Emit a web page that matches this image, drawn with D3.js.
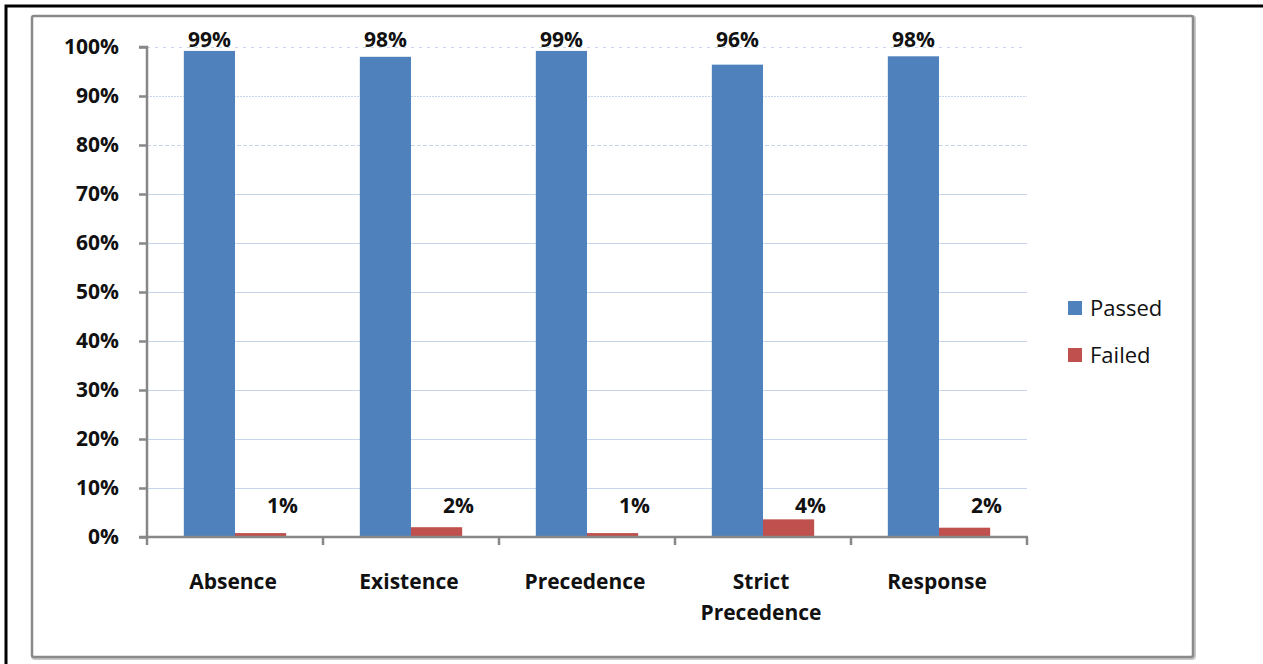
<!DOCTYPE html>
<html>
<head>
<meta charset="utf-8">
<script src="https://cdn.jsdelivr.net/npm/d3@7"></script>
<style>
  html, body { margin: 0; padding: 0; background: #fff; }
  svg { display: block; }
  text { font-family: "Open Sans", "DejaVu Sans", sans-serif; fill: #111; }
</style>
</head>
<body>
<svg id="chart" width="1263" height="664"></svg>
<script>
const categories = [["Absence"], ["Existence"], ["Precedence"], ["Strict", "Precedence"], ["Response"]];
const seriesNames = ["Passed", "Failed"];
const passed = [0.992, 0.98, 0.992, 0.964, 0.981];
const failed = [0.008, 0.02, 0.008, 0.036, 0.019];
const yTicks = [0, 0.1, 0.2, 0.3, 0.4, 0.5, 0.6, 0.7, 0.8, 0.9, 1.0];
const colors = ["#4f81bd", "#c0504d"];

const svg = d3.select("#chart");
const catKeys = categories.map(c => c.join(" "));
const FS = 21;

// outer black frame
svg.append("rect").attr("x", 6).attr("y", 6).attr("width", 1300).attr("height", 700)
  .attr("fill", "none").attr("stroke", "#000").attr("stroke-width", 3);
// chart area gray frame
svg.append("rect").attr("x", 33).attr("y", 17).attr("width", 1161).attr("height", 641)
  .attr("rx", 2).attr("fill", "none").attr("stroke", "#c8c8c8").attr("stroke-width", 4);
svg.append("rect").attr("x", 32).attr("y", 16).attr("width", 1161).attr("height", 641)
  .attr("rx", 2).attr("fill", "#fff").attr("stroke", "#8a8a8a").attr("stroke-width", 2.5);

const x0 = 147, x1 = 1027, yBot = 537, yTop = 47;
const x = d3.scaleBand().domain(catKeys).range([x0, x1]).padding(0);
const xs = d3.scaleBand().domain(seriesNames).range([0, x.bandwidth()]).paddingInner(0).paddingOuter(0.72);
const y = d3.scaleLinear().domain([0, 1]).range([yBot, yTop]);

// gridlines
const dashes = {"1": "3,5", "0.9": "2,1", "0.8": "4,2"};
svg.append("g").selectAll("line").data(yTicks.filter(t => t > 0)).join("line")
  .attr("x1", x0).attr("x2", x1)
  .attr("y1", d => Math.round(y(d)) + 0.5).attr("y2", d => Math.round(y(d)) + 0.5)
  .attr("stroke", "#c6d4ec").attr("stroke-width", 1)
  .attr("stroke-dasharray", d => dashes[String(+d.toFixed(1))] || null);

// bars
const rows = catKeys.map((k, i) => ({k, vals: [passed[i], failed[i]]}));
const groups = svg.append("g").selectAll("g").data(rows).join("g")
  .attr("transform", d => `translate(${x(d.k)},0)`);
groups.selectAll("rect").data(d => d.vals.map((v, j) => ({s: seriesNames[j], v, j}))).join("rect")
  .attr("x", d => xs(d.s)).attr("width", xs.bandwidth())
  .attr("y", d => y(d.v)).attr("height", d => yBot - y(d.v))
  .attr("fill", d => colors[d.j]);

// value labels
groups.selectAll("text").data(d => d.vals.map((v, j) => ({s: seriesNames[j], v, j}))).join("text")
  .attr("x", d => xs(d.s) + xs.bandwidth() / 2 + (d.j === 1 ? 22 : 0))
  .attr("y", d => d.j === 1 ? y(0.05) : y(1) - 0)
  .attr("text-anchor", "middle").attr("font-size", FS).attr("font-weight", "bold")
  .text(d => d3.format(".0%")(d.v));

// axes
const axisColor = "#878787";
const yAxis = svg.append("g").attr("transform", `translate(${x0},0)`)
  .call(d3.axisLeft(y).tickValues(yTicks).tickFormat(d3.format(".0%")).tickSize(8).tickPadding(20));
yAxis.select(".domain").attr("stroke", axisColor).attr("stroke-width", 2.5).attr("d", `M-8,${yTop}H0V${yBot}`);
yAxis.selectAll(".tick line").attr("stroke", axisColor).attr("stroke-width", 2.5);
yAxis.selectAll(".tick text").attr("font-size", FS).attr("font-weight", "bold")
  .attr("font-family", "Open Sans, DejaVu Sans, sans-serif").attr("fill", "#111");

const xAxisG = svg.append("g");
xAxisG.append("line").attr("x1", x0 - 8).attr("x2", x1 + 1).attr("y1", yBot).attr("y2", yBot)
  .attr("stroke", axisColor).attr("stroke-width", 2.5);
const bounds = catKeys.map(k => x(k)).concat([x1]);
xAxisG.selectAll("line.t").data(bounds).join("line").attr("class", "t")
  .attr("x1", d => d).attr("x2", d => d).attr("y1", yBot).attr("y2", yBot + 8)
  .attr("stroke", axisColor).attr("stroke-width", 2.5);

// category labels
const catText = svg.append("g").selectAll("text").data(categories).join("text")
  .attr("x", (d, i) => x(catKeys[i]) + x.bandwidth() / 2 - 2)
  .attr("y", 589).attr("text-anchor", "middle").attr("font-size", FS).attr("font-weight", "bold");
catText.selectAll("tspan").data(d => d).join("tspan")
  .attr("x", function() { return d3.select(this.parentNode).attr("x"); })
  .attr("dy", (d, i) => i === 0 ? 0 : 31).text(d => d);

// legend
const legend = svg.append("g").selectAll("g").data(seriesNames).join("g")
  .attr("transform", (d, i) => `translate(1068,${301 + i * 47})`);
legend.append("rect").attr("width", 14).attr("height", 14).attr("fill", (d, i) => colors[i]);
legend.append("text").attr("x", 22).attr("y", 15).attr("font-size", 22).text(d => d);
</script>
</body>
</html>
